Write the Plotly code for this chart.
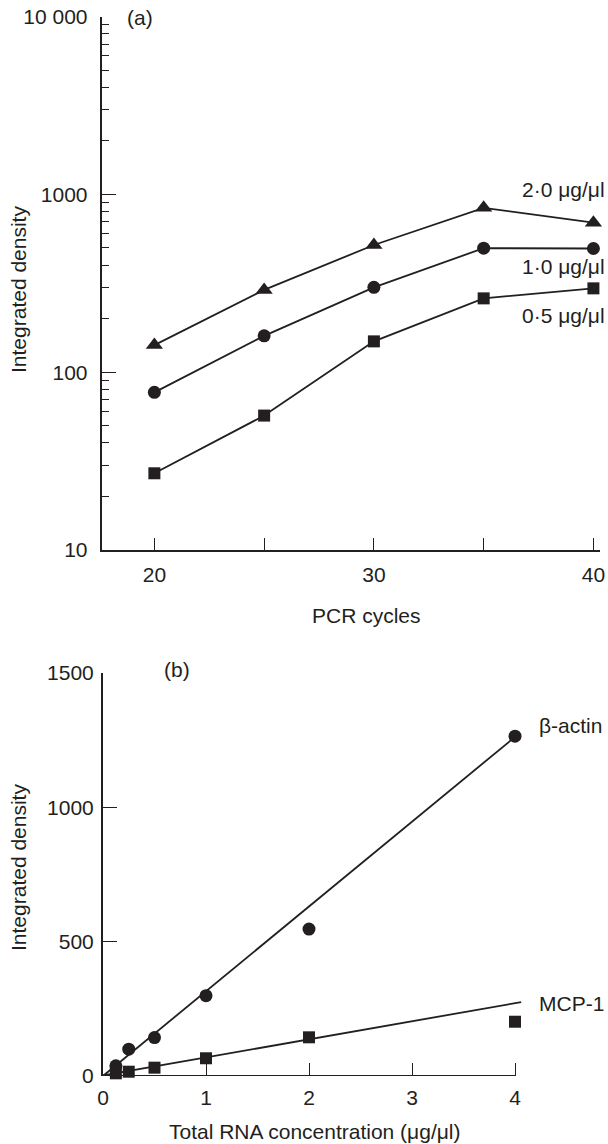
import plotly.graph_objects as go

# ---------------- data ----------------
# Panel (a): integrated density vs PCR cycles, three RNA loadings
cycles = [20, 25, 30, 35, 40]
dens_2_0 = [142, 290, 519, 840, 693]
dens_1_0 = [77, 160, 300, 498, 496]
dens_0_5 = [27, 57, 149, 260, 296]
series_a_labels = ["2·0 μg/μl", "1·0 μg/μl", "0·5 μg/μl"]

# Panel (b): integrated density vs total RNA concentration
rna_conc = [0.125, 0.25, 0.5, 1, 2, 4]
actin = [38, 100, 143, 299, 547, 1265]
mcp1 = [10, 16, 31, 66, 144, 202]
fit_x_actin = [0, 4]
fit_actin = [0, 1262]
fit_x_mcp = [0, 4.06]
fit_mcp = [2, 275]
series_b_labels = ["β-actin", "MCP-1"]

# ticks
a_xticks = [20, 25, 30, 35, 40]
a_xtick_text = ["20", "", "30", "", "40"]
a_yticks = [10, 100, 1000, 10000]
a_ytick_text = ["10", "100", "1000", "10 000"]
a_yminor = [d * m for d in (10, 100, 1000) for m in range(2, 10)]
b_xticks = [0, 1, 2, 3, 4]
b_yticks = [0, 500, 1000, 1500]

# ---------------- styling ----------------
W, H = 608, 1144
ink = "#231f20"
FONT = "Liberation Sans, Arial, Helvetica, sans-serif"
FS = 21


def px(x, y):
    return x / W, 1 - y / H


fig = go.Figure()

line_style = dict(color=ink, width=1.8)
for vals, sym, sz in [(dens_2_0, "triangle-up", 15), (dens_1_0, "circle", 13), (dens_0_5, "square", 12)]:
    fig.add_trace(go.Scatter(
        x=cycles, y=vals, mode="lines+markers", line=line_style,
        marker=dict(symbol=sym, size=sz, color=ink, line=dict(width=0)),
        cliponaxis=False, xaxis="x", yaxis="y", showlegend=False))

# panel b fits
fig.add_trace(go.Scatter(x=fit_x_actin, y=fit_actin, mode="lines", line=line_style,
                         xaxis="x2", yaxis="y2", showlegend=False))
fig.add_trace(go.Scatter(x=fit_x_mcp, y=fit_mcp, mode="lines", line=line_style,
                         xaxis="x2", yaxis="y2", showlegend=False))
fig.add_trace(go.Scatter(x=rna_conc, y=actin, mode="markers",
                         marker=dict(symbol="circle", size=13, color=ink, line=dict(width=0)),
                         cliponaxis=False, xaxis="x2", yaxis="y2", showlegend=False))
fig.add_trace(go.Scatter(x=rna_conc, y=mcp1, mode="markers",
                         marker=dict(symbol="square", size=12, color=ink, line=dict(width=0)),
                         cliponaxis=False, xaxis="x2", yaxis="y2", showlegend=False))

common = dict(showgrid=False, zeroline=False, ticks="inside", tickcolor=ink,
              tickwidth=1.3, linecolor=ink, linewidth=2, automargin=False,
              tickfont=dict(family=FONT, size=FS, color=ink))

# panel a domains
ax_x0, ax_x1 = px(101.7, 0)[0], px(600, 0)[0]
ay_y0, ay_y1 = px(0, 550)[1], px(0, 16.5)[1]
# panel b domains
b_xend = 4.07
bx_x0, bx_x1 = px(103, 0)[0], px(103 + b_xend * 103, 0)[0]
by_y0, by_y1 = px(0, 1076)[1], px(0, 673)[1]

fig.update_layout(
    width=W, height=H,
    margin=dict(l=0, r=0, t=0, b=0),
    paper_bgcolor="white", plot_bgcolor="white",
    font=dict(family=FONT, size=FS, color=ink),
    xaxis=dict(domain=[ax_x0, ax_x1], range=[17.6, 40.3], anchor="y",
               tickmode="array", tickvals=a_xticks, ticktext=a_xtick_text,
               ticklen=12, showline=True, ticklabelstandoff=5, **common),
    yaxis=dict(domain=[ay_y0, ay_y1], type="log", range=[1, 4], anchor="x",
               tickmode="array", tickvals=a_yticks, ticktext=a_ytick_text,
               ticklen=14, showline=True, ticklabelstandoff=8,
               minor=dict(tickmode="array", tickvals=a_yminor, ticks="inside",
                          ticklen=7, tickcolor=ink, tickwidth=1.2, showgrid=False),
               **common),
    xaxis2=dict(domain=[bx_x0, bx_x1], range=[0, b_xend], anchor="y2",
                tickmode="array", tickvals=b_xticks,
                ticklen=13, showline=False, ticklabelstandoff=7, **common),
    yaxis2=dict(domain=[by_y0, by_y1], range=[0, 1500], anchor="x2",
                tickmode="array", tickvals=b_yticks,
                ticklen=14, showline=True, ticklabelstandoff=3, **common),
)

# x axis line of panel b, ending at 4 like the reference
fig.add_shape(type="line", xref="x2", yref="y2", x0=0, x1=b_xticks[-1], y0=0, y1=0,
              line=dict(color=ink, width=2), layer="above")

annots = []


def add_text(text, x, y, xanchor="center", angle=0):
    ax, ay = px(x, y)
    annots.append(dict(text=text, x=ax, y=ay, xref="paper", yref="paper",
                       xanchor=xanchor, yanchor="middle", showarrow=False,
                       textangle=angle, font=dict(family=FONT, size=FS, color=ink)))


add_text("(a)", 140, 17)
add_text("(b)", 177, 669)
add_text("Integrated density", 18, 290, angle=-90)
add_text("Integrated density", 18, 868, angle=-90)
add_text("PCR cycles", 367, 615)
add_text("Total RNA concentration (μg/μl)", 315, 1131)
for lab, yy in zip(series_a_labels, [190, 267, 315]):
    add_text(lab, 607, yy, xanchor="right")
for lab, yy in zip(series_b_labels, [725, 1003]):
    add_text(lab, 537, yy, xanchor="left")

fig.update_layout(annotations=annots)

fig.write_html(
    "out.html",
    config={"displayModeBar": False},
    post_script="document.body.style.margin='0';document.body.style.padding='0';"
                "document.documentElement.style.overflow='hidden';",
)
